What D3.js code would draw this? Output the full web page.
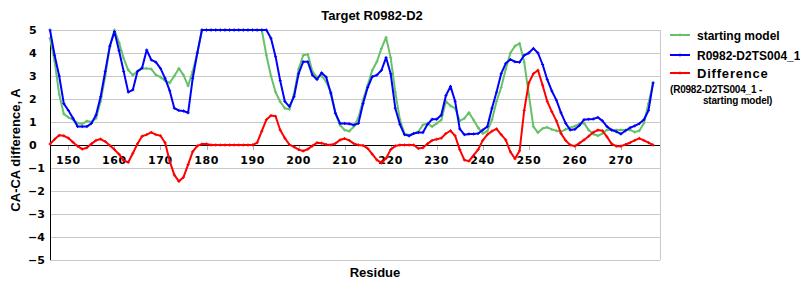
<!DOCTYPE html>
<html><head><meta charset="utf-8">
<script src="https://cdn.jsdelivr.net/npm/d3@7"></script>
<style>body{margin:0;background:#fff}svg{display:block}</style>
</head><body>
<svg id="c" width="800" height="300"></svg>
<script>
const startResidue = 146;
const startingModel = [4.64,3.65,2.2,1.35,1.2,1.1,0.95,0.92,1.04,1.0,1.16,1.9,3.0,4.3,5.0,4.45,3.77,3.26,3.04,3.2,3.33,3.33,3.3,3.05,2.95,2.8,2.7,3.0,3.33,3.04,2.57,3.2,4.0,5.0,
5.0,5.0,5.0,5.0,5.0,5.0,5.0,5.0,5.0,5.0,5.0,5.0,5.0,
3.9,3.0,2.3,1.88,1.6,1.55,2.2,3.3,3.9,3.94,3.2,2.95,3.0,2.75,2.3,1.38,0.87,0.65,0.6,0.8,1.2,1.95,2.6,3.25,3.62,4.2,4.68,3.8,2.3,1.1,0.5,0.43,0.5,0.58,0.87,0.94,0.8,0.94,1.09,1.9,1.7,1.6,1.05,1.16,1.41,1.09,0.75,0.5,0.6,1.1,1.9,2.5,3.3,4.0,4.3,4.42,3.6,2.2,0.8,0.54,0.72,0.77,0.68,0.62,0.58,0.68,0.75,0.82,0.92,0.95,0.65,0.48,0.4,0.5,0.66,0.65,0.65,0.65,0.65,0.66,0.56,0.62,0.95,1.8,2.71];
const model = [5.0,3.9,3.0,1.8,1.5,1.16,0.8,0.8,0.8,0.94,1.3,2.1,3.2,4.3,4.93,4.1,3.2,2.3,2.4,3.2,3.35,4.13,3.7,3.6,3.33,2.9,2.36,1.6,1.5,1.48,1.4,2.9,4.0,5.0,
5.0,5.0,5.0,5.0,5.0,5.0,5.0,5.0,5.0,5.0,5.0,5.0,5.0,5.0,
4.64,3.84,2.8,1.9,1.67,2.1,3.1,3.62,3.62,3.04,2.85,3.14,2.95,2.25,1.38,0.94,0.94,0.92,0.87,0.94,1.8,2.5,2.97,3.04,3.25,3.8,3.1,1.6,0.9,0.45,0.4,0.5,0.54,0.54,0.9,1.12,1.12,1.3,2.15,2.55,1.9,0.7,0.45,0.48,0.48,0.5,0.65,0.8,1.6,2.3,3.1,3.55,3.72,3.62,3.6,3.9,4.0,4.2,4.0,3.5,2.85,2.35,1.95,1.4,0.95,0.65,0.68,0.85,1.1,1.12,1.13,1.2,1.05,0.8,0.65,0.58,0.48,0.62,0.75,0.83,0.93,1.1,1.5,2.7];
const difference = [0.04,0.25,0.42,0.4,0.3,0.12,-0.05,-0.18,-0.12,0.05,0.2,0.26,0.15,-0.02,-0.2,-0.4,-0.68,-0.75,-0.36,0.05,0.38,0.45,0.55,0.45,0.4,0.1,-0.7,-1.3,-1.58,-1.4,-0.85,-0.29,-0.04,0.04,0.04,
0,0,0,0,0,0,0,0,0,0,
0.1,0.6,1.1,1.28,1.25,0.65,0.3,0.02,-0.08,-0.2,-0.26,-0.18,-0.04,0.1,0.08,0.02,0.0,0.07,0.22,0.28,0.2,0.06,0.0,-0.02,-0.15,-0.4,-0.65,-0.78,-0.58,-0.2,-0.04,0,0,0,0,-0.15,-0.12,0.05,0.2,0.25,0.3,0.5,0.62,0.4,-0.2,-0.65,-0.7,-0.45,-0.2,0.2,0.45,0.6,0.7,0.45,0.22,-0.3,-0.6,-0.25,1.5,2.7,3.1,3.25,2.6,1.9,1.45,1.05,0.5,0.2,0.0,-0.05,0.08,0.22,0.38,0.55,0.65,0.62,0.35,0.05,-0.05,-0.05,0.02,0.1,0.2,0.29,0.2,0.1,0.0];
const xTicks = [150,160,170,180,190,200,210,220,230,240,250,260,270];
const yTicks = [5,4,3,2,1,0,-1,-2,-3,-4,-5];
const seriesNames = ["starting model","R0982-D2TS004_1","Difference"];
const seriesColors = ["#66c266","#0000ff","#ff0000"];

const svg = d3.select("#c");
const x = d3.scaleLinear().domain([146, 278.5]).range([50, 660]);
const y = d3.scaleLinear().domain([-5, 5]).range([260, 30]);

// grid
svg.append("g").selectAll("line").data(yTicks.filter(d=>d!==0)).join("line")
  .attr("x1", 50).attr("x2", 660).attr("y1", d=>y(d)).attr("y2", d=>y(d))
  .attr("stroke", "#c8c8c8").attr("stroke-width", 1).attr("shape-rendering","crispEdges");
svg.append("line").attr("x1",660).attr("x2",660).attr("y1",30).attr("y2",260)
  .attr("stroke","#c8c8c8").attr("shape-rendering","crispEdges");

// x axis ticks
svg.append("g").selectAll("line").data(xTicks).join("line")
  .attr("x1", d=>Math.round(x(d))+0.5).attr("x2", d=>Math.round(x(d))+0.5)
  .attr("y1", y(0)).attr("y2", y(0)+5).attr("stroke","#b0b0b0");
svg.append("g").selectAll("text").data(xTicks).join("text")
  .attr("x", d=>x(d)).attr("y", 164).attr("text-anchor","middle")
  .attr("font-family","DejaVu Sans").attr("font-weight","bold").attr("font-size",11)
  .attr("letter-spacing","0.6px")
  .text(d=>d);
// y tick labels
svg.append("g").selectAll("text").data(yTicks).join("text")
  .attr("x", d=> d<0 ? 28 : 29).attr("y", d=>y(d)+4).attr("text-anchor","start")
  .attr("font-family","DejaVu Sans").attr("font-weight","bold").attr("font-size",11)
  .text(d=> d<0 ? "\u2212"+Math.abs(d) : d);

// axes lines
svg.append("line").attr("x1",50).attr("x2",660).attr("y1",y(0)).attr("y2",y(0))
  .attr("stroke","#000").attr("shape-rendering","crispEdges");
svg.append("line").attr("x1",50).attr("x2",50).attr("y1",30).attr("y2",260)
  .attr("stroke","#000").attr("shape-rendering","crispEdges");

// series
const allSeries = [startingModel, model, difference];
const line = d3.line().x((d,i)=>x(startResidue+i)).y(d=>y(d));
allSeries.forEach((s,k)=>{
  const g = svg.append("g");
  g.append("path").datum(s).attr("d", line).attr("fill","none")
    .attr("stroke", seriesColors[k]).attr("stroke-width", 2).attr("stroke-linejoin","round");
  g.selectAll("path.m").data(s).join("path").attr("class","m")
    .attr("d",(d,i)=>{const cx=x(startResidue+i), cy=y(d); return `M${cx-1.5},${cy}H${cx+1.5}M${cx},${cy-1.5}V${cy+1.5}`;})
    .attr("stroke", seriesColors[k]).attr("stroke-width",1);
});

// titles
svg.append("text").attr("x",372).attr("y",20).attr("text-anchor","middle")
  .attr("font-family","Liberation Sans").attr("font-weight","bold").attr("font-size",13)
  .text("Target R0982-D2");
svg.append("text").attr("x",375).attr("y",277).attr("text-anchor","middle")
  .attr("font-family","Liberation Sans").attr("font-weight","bold").attr("font-size",13)
  .text("Residue");
svg.append("text").attr("transform","translate(20,150) rotate(-90)").attr("text-anchor","middle")
  .attr("font-family","Liberation Sans").attr("font-weight","bold").attr("font-size",13)
  .text("CA-CA difference, A");

// legend
const legY = [35, 55, 73];
seriesNames.forEach((n,k)=>{
  svg.append("line").attr("x1",670).attr("x2",690).attr("y1",legY[k]).attr("y2",legY[k])
    .attr("stroke",seriesColors[k]).attr("stroke-width",2);
  svg.append("path").attr("d",`M680,${legY[k]-1.5}V${legY[k]+1.5}`).attr("stroke",seriesColors[k]);
  svg.append("text").attr("x",697).attr("y",legY[k]+4.5)
    .attr("font-family","Liberation Sans").attr("font-weight","bold").attr("font-size", k===2?13:12)
    .attr("letter-spacing", k===2?"0.8px":"0")
    .text(n);
});
svg.append("text").attr("x",670).attr("y",93)
  .attr("font-family","Liberation Sans").attr("font-weight","bold").attr("font-size",10)
  .attr("letter-spacing","-0.2px")
  .text("(R0982-D2TS004_1 -");
svg.append("text").attr("x",703).attr("y",104)
  .attr("font-family","Liberation Sans").attr("font-weight","bold").attr("font-size",10)
  .attr("letter-spacing","-0.2px")
  .text("starting model)");
</script>
</body></html>
